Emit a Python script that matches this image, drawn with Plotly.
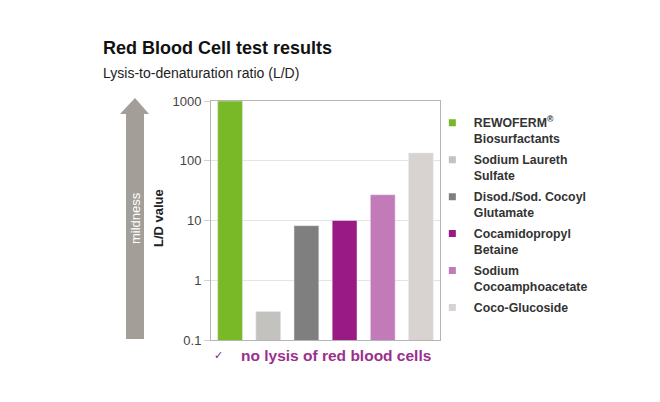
import plotly.graph_objects as go

categories = ['<b>REWOFERM<sup>®</sup></b><br><b>Biosurfactants</b>', '<b>Sodium Laureth</b><br><b>Sulfate</b>',
              '<b>Disod./Sod. Cocoyl</b><br><b>Glutamate</b>', '<b>Cocamidopropyl</b><br><b>Betaine</b>',
              '<b>Sodium</b><br><b>Cocoamphoacetate</b>', '<b>Coco-Glucoside</b><br> ']
ld_values = [1000, 0.3, 8.2, 10, 27, 135]
colors = ['#79b928', '#c3c2be', '#7f7f7f', '#9a1a85', '#c27bb8', '#d8d3d0']

# the page body has an 8px margin, so the figure is drawn 8px smaller
OFF = 8
W, H = 660 - OFF, 402 - OFF
L, R, T, B = 211, 440, 101, 340  # plot area in reference pixels


def px(x):
    return (x - L) / (R - L)


def py(y):
    return (B - y) / (B - T)


fig = go.Figure()
for i, (cat, val, col) in enumerate(zip(categories, ld_values, colors)):
    fig.add_trace(go.Bar(x=[i], y=[val], marker_color=col, width=0.65,
                         showlegend=False, hoverinfo='y'))
    # legend entry with a small square marker
    fig.add_trace(go.Scatter(x=[None], y=[None], mode='markers', name=cat,
                             legendgroup=f'g{i}',
                             marker=dict(symbol='square', size=7, color=col)))

# mildness arrow
arrow = (f"M {px(126)},{py(339)} L {px(144)},{py(339)} L {px(144)},{py(114)} "
         f"L {px(149)},{py(114)} L {px(135)},{py(98)} L {px(120)},{py(114)} "
         f"L {px(126)},{py(114)} Z")
fig.add_shape(type='path', path=arrow, xref='paper', yref='paper',
              fillcolor='#a39e98', line=dict(width=0), layer='below')

FONT = 'Liberation Sans, Arial'


def note(x, y, text, size, color, xanchor='center', angle=0, family=FONT):
    fig.add_annotation(x=px(x), y=py(y), xref='paper', yref='paper', text=text,
                       xanchor=xanchor, yanchor='middle', textangle=angle,
                       showarrow=False, font=dict(family=family, size=size, color=color))


note(135, 218, 'mildness', 13, 'white', angle=-90)
note(158, 218, '<b>L/D value</b>', 13, '#222', angle=-90)
note(101, 48, '<b>Red Blood Cell test results</b>', 18, '#111', xanchor='left')
note(101, 73, 'Lysis-to-denaturation ratio (L/D)', 14, '#222', xanchor='left')
note(212, 355, '✓', 11, '#7a2a6e', xanchor='left', family='DejaVu Sans')
note(239, 355, '<b>no lysis of red blood cells</b>', 15.5, '#9b2f8c', xanchor='left')

fig.update_layout(
    width=W, height=H,
    margin=dict(l=L - OFF, r=660 - R, t=T - OFF, b=402 - B, pad=0),
    plot_bgcolor='white', paper_bgcolor='white',
    barmode='overlay',
    font=dict(family=FONT, size=13, color='#444'),
    xaxis=dict(range=[-0.5, 5.5], showticklabels=False, showgrid=False, zeroline=False,
               showline=True, linecolor='#b5b5b5', linewidth=1, mirror=True, ticks=''),
    yaxis=dict(type='log', range=[-1, 3], tickvals=[0.1, 1, 10, 100, 1000],
               ticktext=['0.1', '1', '10', '100', '1000'],
               showgrid=True, gridcolor='#e4e4e4', showline=True, linecolor='#b5b5b5',
               mirror=True, ticks='outside', ticklen=6, tickcolor='#d0d0d0',
               tickfont=dict(size=13, color='#444')),
    legend=dict(x=0.96, xanchor='left', y=0.97, yanchor='top', valign='top',
                font=dict(family=FONT, size=12.3, color='#333'),
                itemwidth=33, tracegroupgap=2, bgcolor='rgba(0,0,0,0)'),
)

fig.write_html("out.html")
